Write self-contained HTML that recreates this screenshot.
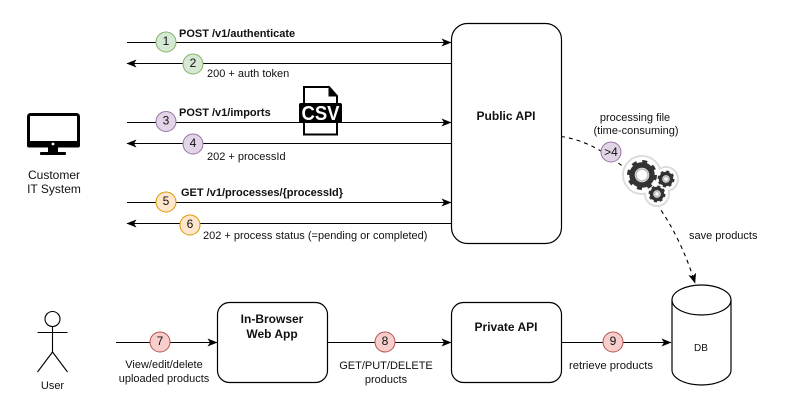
<!DOCTYPE html>
<html><head><meta charset="utf-8"><style>
html,body{margin:0;padding:0;background:#fff}
svg{display:block}
text{font-family:"Liberation Sans",sans-serif;font-size:11px;fill:#111}
.b{font-weight:bold}
.h{font-weight:bold;font-size:12px}
.d{font-size:12px;text-anchor:middle}
.m{text-anchor:middle}
.l{stroke:#000;stroke-width:1.1;fill:none}
.box{fill:#fff;stroke:#000;stroke-width:1.2}
</style></head><body>
<svg width="789" height="413" viewBox="0 0 789 413" xmlns="http://www.w3.org/2000/svg">
<rect width="789" height="413" fill="#fff"/>
<defs>
<marker id="e" viewBox="0 0 10 10" refX="9.500" refY="5" markerWidth="10" markerHeight="10" markerUnits="userSpaceOnUse" orient="auto"><path d="M0 1L10 5L0 9L2.500 5Z" fill="#000"/></marker>
</defs>

<!-- sequence arrows -->
<g class="l">
<path d="M127 42.500H451" marker-end="url(#e)"/>
<path d="M451 63.500H127" marker-end="url(#e)"/>
<path d="M127 122.500H451" marker-end="url(#e)"/>
<path d="M451 143.500H127" marker-end="url(#e)"/>
<path d="M127 202.500H451" marker-end="url(#e)"/>
<path d="M451 223.500H127" marker-end="url(#e)"/>
<path d="M116 342.500H217" marker-end="url(#e)"/>
<path d="M327 342.500H451" marker-end="url(#e)"/>
<path d="M561 342.500H671" marker-end="url(#e)"/>
</g>

<!-- dashed -->
<path d="M561 136.500C610 143 668 195 695 283" fill="none" stroke="#000" stroke-width="1.1" stroke-dasharray="4 4" marker-end="url(#e)"/>

<!-- boxes -->
<rect class="box" x="451.500" y="23.500" width="110" height="220" rx="16"/>
<rect class="box" x="217.500" y="302.500" width="110" height="80" rx="12"/>
<rect class="box" x="451.500" y="302.500" width="110" height="80" rx="12"/>
<path class="box" d="M672 300A29.500 15 0 0 1 731 300V370A29.500 15 0 0 1 672 370Z"/>
<path d="M672 300A29.500 15 0 0 0 731 300" fill="none" stroke="#000" stroke-width="1.2"/>

<text class="h m" x="506" y="120">Public API</text>
<text class="h m" x="272" y="323">In-Browser</text>
<text class="h m" x="272" y="338">Web App</text>
<text class="h m" x="506" y="331">Private API</text>
<text class="m" x="701" y="351" style="font-size:10px">DB</text>

<!-- circles -->
<g stroke-width="1">
<circle cx="166" cy="42" r="10" fill="#d5e8d4" stroke="#82b366"/>
<circle cx="193" cy="64" r="10" fill="#d5e8d4" stroke="#82b366"/>
<circle cx="166" cy="121.500" r="10" fill="#e1d5e7" stroke="#9673a6"/>
<circle cx="193" cy="144" r="10" fill="#e1d5e7" stroke="#9673a6"/>
<circle cx="166" cy="202" r="10" fill="#ffe6cc" stroke="#d79b00"/>
<circle cx="190" cy="225" r="10" fill="#ffe6cc" stroke="#d79b00"/>
<circle cx="160" cy="342" r="10" fill="#f8cecc" stroke="#b85450"/>
<circle cx="385" cy="342" r="10" fill="#f8cecc" stroke="#b85450"/>
<circle cx="613" cy="342" r="10" fill="#f8cecc" stroke="#b85450"/>
<circle cx="611" cy="152" r="10" fill="#e1d5e7" stroke="#9673a6"/>
</g>
<text class="d" x="166" y="45">1</text>
<text class="d" x="193" y="67">2</text>
<text class="d" x="166" y="124.500">3</text>
<text class="d" x="193" y="147">4</text>
<text class="d" x="166" y="205">5</text>
<text class="d" x="190" y="228">6</text>
<text class="d" x="160" y="345">7</text>
<text class="d" x="385" y="345">8</text>
<text class="d" x="613" y="345">9</text>
<text class="d" x="611" y="156">&gt;4</text>

<!-- labels -->
<text class="b" x="179" y="37">POST /v1/authenticate</text>
<text x="207" y="77">200 + auth token</text>
<text class="b" x="179" y="116">POST /v1/imports</text>
<text x="207" y="160">202 + processId</text>
<text class="b" x="181" y="196">GET /v1/processes/{processId}</text>
<text x="203" y="239">202 + process status (=pending or completed)</text>
<text class="m" x="635" y="121">processing file</text>
<text class="m" x="636" y="134">(time-consuming)</text>
<text x="689" y="239">save products</text>
<text class="m" x="164" y="368">View/edit/delete</text>
<text class="m" x="164" y="382">uploaded products</text>
<text class="m" x="386" y="369">GET/PUT/DELETE</text>
<text class="m" x="386" y="383">products</text>
<text class="m" x="611" y="369" textLength="84" lengthAdjust="spacingAndGlyphs">retrieve products</text>
<text class="m" x="54" y="179" style="font-size:12px">Customer</text>
<text class="m" x="54" y="193" style="font-size:12px">IT System</text>
<text class="m" x="52.500" y="389">User</text>

<!-- monitor -->
<rect x="28.500" y="114.500" width="50" height="31" rx="2" fill="#fff" stroke="#000" stroke-width="3"/>
<rect x="27" y="141" width="53" height="6.500" rx="2" fill="#000"/>
<circle cx="53" cy="144" r="1.400" fill="#fff"/>
<rect x="48" y="147" width="10" height="5.500" fill="#000"/>
<rect x="40" y="152" width="26" height="3" rx="1" fill="#000"/>

<!-- stick figure -->
<g fill="none" stroke="#000" stroke-width="1.1">
<circle cx="52.500" cy="319" r="7.500"/>
<path d="M52.500 327V352M37.500 332.500H67.500M52.500 352L37.500 372M52.500 352L67.500 372"/>
</g>

<!-- csv icon -->
<path d="M304 87H329L337 96V134.500H304Z" fill="#fff" stroke="#000" stroke-width="2"/>
<path d="M329 87V96H337Z" fill="#000" stroke="#000"/>
<rect x="299" y="103" width="43" height="20" rx="2" fill="#000"/>
<text x="320.500" y="120" class="m" textLength="38" lengthAdjust="spacingAndGlyphs" style="font-size:20px;font-weight:bold;fill:#fff">CSV</text>

<!-- gears -->
<g fill="#fff" stroke="#dcdcdc" stroke-width="2">
<circle cx="642" cy="175" r="19"/>
<circle cx="666" cy="179" r="12"/>
<circle cx="657" cy="194" r="12"/>
</g>
<g fill="#fff" stroke="none">
<circle cx="642" cy="175" r="18"/>
<circle cx="666" cy="179" r="11"/>
<circle cx="657" cy="194" r="11"/>
</g>
<g fill="none" stroke="#333">
<circle cx="642" cy="175" r="10" stroke-width="5.500"/>
<circle cx="642" cy="175" r="13.500" stroke-width="3" stroke-dasharray="5 5.600"/>
<circle cx="666" cy="179" r="5.500" stroke-width="3.500"/>
<circle cx="666" cy="179" r="7.500" stroke-width="2" stroke-dasharray="3 2.900"/>
<circle cx="657" cy="194" r="5.500" stroke-width="3.500"/>
<circle cx="657" cy="194" r="7.500" stroke-width="2" stroke-dasharray="3 2.900"/>
</g>
<g fill="none" stroke="#bbb" stroke-width="1.500">
<circle cx="642" cy="175" r="6"/>
<circle cx="666" cy="179" r="2.500"/>
<circle cx="657" cy="194" r="2.500"/>
</g>
</svg>
</body></html>
